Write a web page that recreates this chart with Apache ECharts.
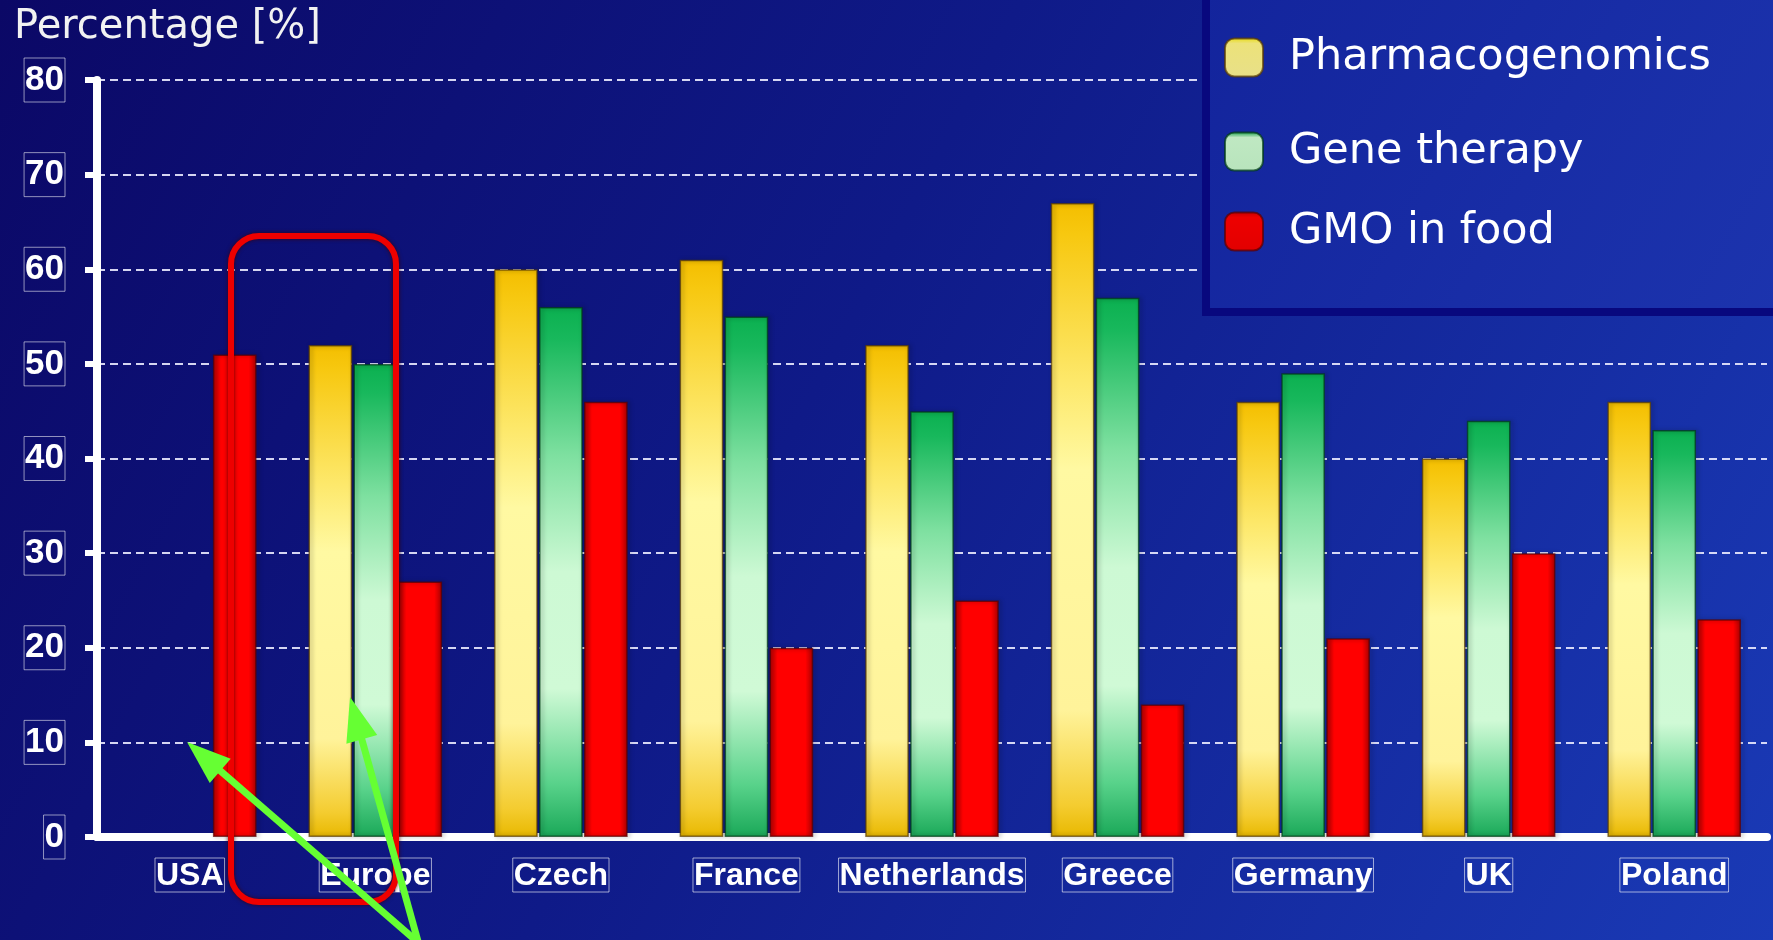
<!DOCTYPE html>
<html>
	<head>
		<meta charset="utf-8">
		<title></title>
		<script src="https://cdn.jsdelivr.net/npm/echarts@6/dist/echarts.min.js"></script>
		<style>
			html, body { margin: 0; padding: 0; background: #0c0a6c; }
		</style>
	</head>
	<body>
		<div id="main" style="width: 1773px; height: 940px;"></div>
		<script type="text/javascript">
			// data
			var countries = ['USA', 'Europe', 'Czech', 'France', 'Netherlands', 'Greece', 'Germany', 'UK', 'Poland'];
			var pharmaco = [null, 52, 60, 61, 52, 67, 46, 40, 46];
			var geneTherapy = [null, 50, 56, 55, 45, 57, 49, 44, 43];
			var gmoFood = [51, 27, 46, 20, 25, 14, 21, 30, 23];
			var yTicks = [0, 80, 10]; // min, max, step

			var myCharts = echarts.init(document.getElementById("main"));

			function grad(stops) {
				return new echarts.graphic.LinearGradient(0, 0, 0, 1, stops);
			}

			// green arrow: line + head
			function arrow(x1, y1, x2, y2) {
				var dx = x2 - x1, dy = y2 - y1;
				var len = Math.sqrt(dx * dx + dy * dy);
				var ux = dx / len, uy = dy / len;
				var hl = 44, hw = 16;
				var bx = x2 - ux * hl, by = y2 - uy * hl;
				return [
					{ type: 'line', z: 20, shape: { x1: x1, y1: y1, x2: bx + ux * 4, y2: by + uy * 4 }, style: { stroke: '#66ff33', lineWidth: 7 } },
					{ type: 'polygon', z: 20, shape: { points: [[x2, y2], [bx - uy * hw, by + ux * hw], [bx + uy * hw, by - ux * hw]] }, style: { fill: '#66ff33' } }
				];
			}

			var labelFont = 'Liberation Sans';
			var legendText = { color: '#ffffff', fontFamily: 'DejaVu Sans', fontSize: 43, padding: [0, 0, 0, 21] };

			option = {
				backgroundColor: new echarts.graphic.LinearGradient(0, 0, 1, 1, [
					{ offset: 0, color: '#0b0866' },
					{ offset: 0.45, color: '#0f1a88' },
					{ offset: 1, color: '#1a3ab6' }
				]),
				title: {
					text: 'Percentage [%]',
					left: 9,
					top: 3,
					textStyle: { color: '#f2f2f2', fontFamily: 'DejaVu Sans', fontWeight: 'normal', fontSize: 40 }
				},
				legend: [
					{ left: 1224, top: 36, padding: 0, itemWidth: 38, itemHeight: 38, icon: 'roundRect',
					  data: [{ name: 'Pharmacogenomics', itemStyle: { color: grad([{ offset: 0, color: '#e8dc10' }, { offset: 0.15, color: '#ece27a' }, { offset: 1, color: '#e8e088' }]) } }],
					  textStyle: legendText },
					{ left: 1224, top: 130, padding: 0, itemWidth: 38, itemHeight: 38, icon: 'roundRect',
					  data: [{ name: 'Gene therapy', itemStyle: { color: grad([{ offset: 0, color: '#0a9a40' }, { offset: 0.15, color: '#bfe8c2' }, { offset: 1, color: '#b8e4bc' }]) } }],
					  textStyle: legendText },
					{ left: 1224, top: 210, padding: 0, itemWidth: 38, itemHeight: 38, icon: 'roundRect',
					  data: [{ name: 'GMO in food', itemStyle: { color: grad([{ offset: 0, color: '#c00000' }, { offset: 0.15, color: '#ee0000' }, { offset: 1, color: '#e20000' }]) } }],
					  textStyle: legendText }
				],
				grid: { left: 97, right: 6, top: 80, bottom: 103 },
				xAxis: {
					type: 'category',
					data: countries,
					axisLine: { lineStyle: { color: '#ffffff', width: 8 } },
					axisTick: { length: 10, lineStyle: { color: '#ffffff', width: 6 } },
					axisLabel: {
						interval: 0,
						color: '#ffffff', fontFamily: labelFont, fontWeight: 'bold', fontSize: 32, margin: 21,
						borderColor: 'rgba(255,255,255,0.6)', borderWidth: 1, padding: [2, 1, 0, 1]
					}
				},
				yAxis: {
					type: 'value',
					min: yTicks[0],
					max: yTicks[1],
					interval: yTicks[2],
					axisLine: { show: true, lineStyle: { color: '#ffffff', width: 8 } },
					axisTick: { show: true, length: 12, lineStyle: { color: '#ffffff', width: 6 } },
					axisLabel: {
						color: '#ffffff', fontFamily: labelFont, fontWeight: 'bold', fontSize: 35, margin: 32,
						borderColor: 'rgba(255,255,255,0.55)', borderWidth: 1, padding: [5, 1, 4, 1]
					},
					splitLine: { lineStyle: { color: 'rgba(235,235,255,0.9)', width: 2, type: [8, 5] } }
				},
				series: [
					{
						name: 'Pharmacogenomics',
						type: 'bar',
						data: pharmaco,
						barGap: '3%',
						barCategoryGap: '28%',
						itemStyle: {
							color: grad([
								{ offset: 0, color: '#f4be00' },
								{ offset: 0.05, color: '#f7c810' },
								{ offset: 0.28, color: '#fde86a' },
								{ offset: 0.42, color: '#fff9a2' },
								{ offset: 0.8, color: '#fff39a' },
								{ offset: 0.95, color: '#f4cc30' },
								{ offset: 1, color: '#e8b800' }
							]),
							borderColor: 'rgba(90,60,0,0.7)', borderWidth: 1.5,
							shadowColor: 'rgba(0,0,0,0.5)', shadowBlur: 4, shadowOffsetX: 2
						}
					},
					{
						name: 'Gene therapy',
						type: 'bar',
						data: geneTherapy,
						itemStyle: {
							color: grad([
								{ offset: 0, color: '#0bb050' },
								{ offset: 0.06, color: '#18b85c' },
								{ offset: 0.28, color: '#7ee0a0' },
								{ offset: 0.5, color: '#cdf9d4' },
								{ offset: 0.72, color: '#d0fad6' },
								{ offset: 0.9, color: '#58d28a' },
								{ offset: 1, color: '#1aa858' }
							]),
							borderColor: 'rgba(0,60,20,0.7)', borderWidth: 1.5,
							shadowColor: 'rgba(0,0,0,0.5)', shadowBlur: 4, shadowOffsetX: 2
						}
					},
					{
						name: 'GMO in food',
						type: 'bar',
						data: gmoFood,
						itemStyle: {
							color: new echarts.graphic.LinearGradient(0, 0, 1, 0, [
								{ offset: 0, color: '#b80000' },
								{ offset: 0.18, color: '#ff0000' },
								{ offset: 0.82, color: '#ff0000' },
								{ offset: 1, color: '#a80000' }
							]),
							borderColor: 'rgba(90,0,0,0.7)', borderWidth: 1.5,
							shadowColor: 'rgba(0,0,0,0.5)', shadowBlur: 4, shadowOffsetX: 2
						}
					}
				],
				graphic: [
					// legend panel
					{
						type: 'rect', z: 1,
						shape: { x: 1206, y: -4, width: 580, height: 316 },
						style: {
							fill: new echarts.graphic.LinearGradient(0, 0, 1, 1, [
								{ offset: 0, color: '#13249c' },
								{ offset: 1, color: '#1c34ae' }
							]),
							stroke: '#08087e', lineWidth: 8
						}
					},
					// red highlight frame
					{
						type: 'rect', z: 15,
						shape: { x: 231, y: 236, width: 165, height: 666, r: 28 },
						style: { fill: 'none', stroke: '#ee0000', lineWidth: 6, shadowColor: 'rgba(60,0,0,0.8)', shadowBlur: 4 }
					}
				].concat(arrow(421, 945, 187, 742), arrow(419, 945, 350, 697))
			};
			myCharts.setOption(option);
		</script>
	</body>
</html>
